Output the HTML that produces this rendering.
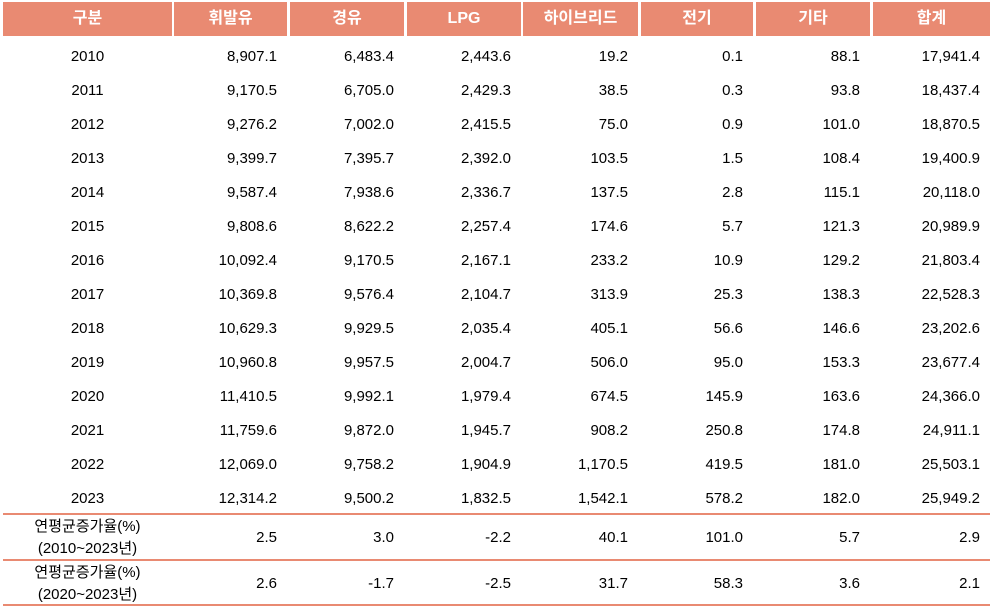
<!DOCTYPE html>
<html><head><meta charset="utf-8"><style>
body{margin:0;width:994px;height:607px;background:#fff;font-family:"Liberation Sans","Noto Sans CJK KR",sans-serif;position:relative;overflow:hidden}
.h{position:absolute;top:2px;height:34px;background:#E98A72;color:#fff;font-weight:bold;font-size:16px;line-height:34px;text-align:center}
.c{position:absolute;font-size:15px;color:#000;text-align:right;white-space:nowrap}
.y{text-align:center}
.line{position:absolute;left:3px;width:987px;height:2px;background:#E98A72}
</style></head><body>
<div id="t"></div>
<script>
const headers=["구분","휘발유","경유","LPG","하이브리드","전기","기타","합계"];
const years=["2010","2011","2012","2013","2014","2015","2016","2017","2018","2019","2020","2021","2022","2023"];
const gasoline=["8,907.1","9,170.5","9,276.2","9,399.7","9,587.4","9,808.6","10,092.4","10,369.8","10,629.3","10,960.8","11,410.5","11,759.6","12,069.0","12,314.2"];
const diesel=["6,483.4","6,705.0","7,002.0","7,395.7","7,938.6","8,622.2","9,170.5","9,576.4","9,929.5","9,957.5","9,992.1","9,872.0","9,758.2","9,500.2"];
const lpg=["2,443.6","2,429.3","2,415.5","2,392.0","2,336.7","2,257.4","2,167.1","2,104.7","2,035.4","2,004.7","1,979.4","1,945.7","1,904.9","1,832.5"];
const hybrid=["19.2","38.5","75.0","103.5","137.5","174.6","233.2","313.9","405.1","506.0","674.5","908.2","1,170.5","1,542.1"];
const electric=["0.1","0.3","0.9","1.5","2.8","5.7","10.9","25.3","56.6","95.0","145.9","250.8","419.5","578.2"];
const other=["88.1","93.8","101.0","108.4","115.1","121.3","129.2","138.3","146.6","153.3","163.6","174.8","181.0","182.0"];
const total=["17,941.4","18,437.4","18,870.5","19,400.9","20,118.0","20,989.9","21,803.4","22,528.3","23,202.6","23,677.4","24,366.0","24,911.1","25,503.1","25,949.2"];
const cagrLabels=[["연평균증가율(%)","(2010~2023년)"],["연평균증가율(%)","(2020~2023년)"]];
const cagr1=["2.5","3.0","-2.2","40.1","101.0","5.7","2.9"];
const cagr2=["2.6","-1.7","-2.5","31.7","58.3","3.6","2.1"];
const colL=[3,174,290,407,523,641,756,873], colR=[172,287,404,521,638,753,870,990];
const t=document.getElementById('t');
function mk(cls,txt,css,name){const d=document.createElement('div');d.className=cls;d.innerHTML=txt;d.style.cssText=css;


t.appendChild(d);return d;}
headers.forEach((h,i)=>mk('h',h,`left:${colL[i]}px;width:${colR[i]-colL[i]}px`,'header-'+i));
const series=[gasoline,diesel,lpg,hybrid,electric,other,total];
years.forEach((yr,r)=>{const cy=55+r*34;
mk('c y',yr,`left:${colL[0]}px;width:${colR[0]-colL[0]}px;top:${cy-7}px`,'year-'+yr);
series.forEach((s,j)=>mk('c',s[r],`left:${colL[j+1]}px;width:${colR[j+1]-colL[j+1]-10}px;top:${cy-7}px`,'cell-'+yr+'-'+j));});
[[514,cagr1,537],[560,cagr2,583]].forEach(([ly,vals,cy],k)=>{
mk('line','',`top:${ly-1}px`,'separator-'+k);
mk('c y',cagrLabels[k][0]+'<br>'+cagrLabels[k][1],`left:${colL[0]}px;width:${colR[0]-colL[0]}px;top:${cy-21}px;line-height:22px`,'cagr-label-'+k);
vals.forEach((v,j)=>mk('c',v,`left:${colL[j+1]}px;width:${colR[j+1]-colL[j+1]-10}px;top:${cy-8}px`,'cagr-'+k+'-'+j));});
mk('line','','top:604px','bottom-border');
</script>
</body></html>
